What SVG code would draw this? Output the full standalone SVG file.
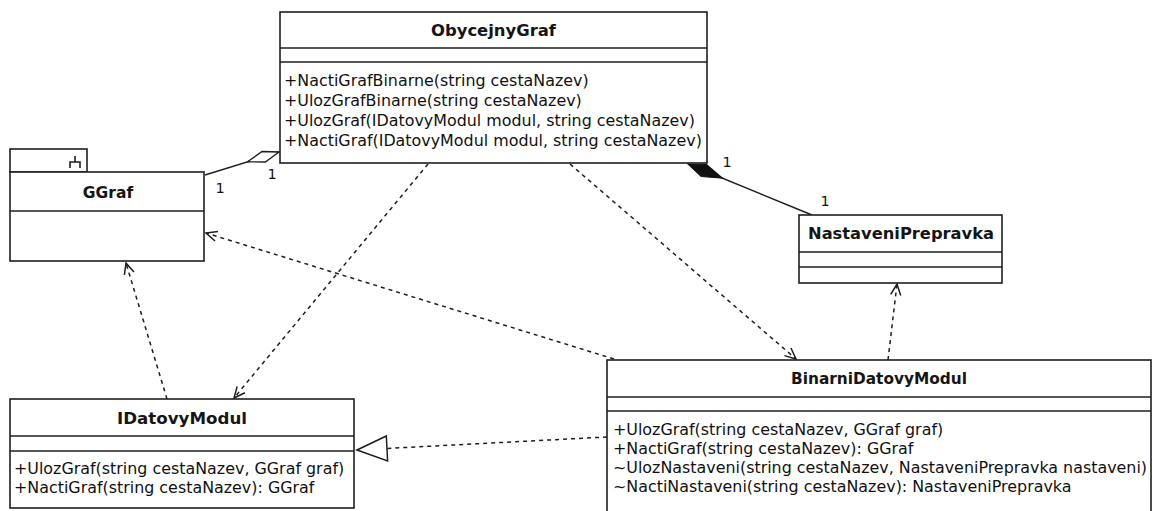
<svg xmlns="http://www.w3.org/2000/svg" width="1156" height="511" viewBox="0 0 1156 511">
  <style>
    .box { fill: #ffffff; stroke: #1e1e1e; stroke-width: 1.6; }
    .sep { stroke: #1e1e1e; stroke-width: 1.6; fill: none; }
    .title { font-family: "DejaVu Sans", Verdana, sans-serif; font-size: 15.5px; font-weight: bold; fill: #151515; text-anchor: middle; }
    .op { font-family: "DejaVu Sans", Verdana, sans-serif; font-size: 15.9px; fill: #111111; }
    .mult { font-family: "DejaVu Sans", Verdana, sans-serif; font-size: 14.5px; fill: #111111; text-anchor: middle; }
    .assoc { stroke: #1e1e1e; stroke-width: 1.4; fill: none; }
    .dep { stroke: #1e1e1e; stroke-width: 1.5; fill: none; stroke-dasharray: 4 4; }
  </style>
  <defs>
    <!-- open arrowhead for dependencies -->
    <marker id="open-arrow" markerUnits="userSpaceOnUse" markerWidth="16" markerHeight="14" viewBox="-13 -7 16 14" refX="0" refY="0" orient="auto">
      <path d="M-11,-5 L0,0 L-11,5" fill="none" stroke="#1e1e1e" stroke-width="1.5"/>
    </marker>
    <!-- hollow triangle for realization -->
    <marker id="realize" markerUnits="userSpaceOnUse" markerWidth="36" markerHeight="30" viewBox="-33 -15 36 30" refX="0" refY="0" orient="auto">
      <path d="M0,0 L-30,-12.5 L-30,12.5 Z" fill="#ffffff" stroke="#1e1e1e" stroke-width="1.5"/>
    </marker>
    <!-- hollow diamond for aggregation -->
    <marker id="aggregate" markerUnits="userSpaceOnUse" markerWidth="40" markerHeight="16" viewBox="-2 -8 40 16" refX="0" refY="0" orient="auto">
      <path d="M0,0 L16,-5.5 L33,0 L16,5.5 Z" fill="#ffffff" stroke="#1e1e1e" stroke-width="1.4"/>
    </marker>
    <!-- filled diamond for composition -->
    <marker id="compose" markerUnits="userSpaceOnUse" markerWidth="42" markerHeight="18" viewBox="-2 -9 42 18" refX="0" refY="0" orient="auto">
      <path d="M0,0 L17,-6.5 L37,0 L17,6.5 Z" fill="#111111" stroke="#111111" stroke-width="1.2"/>
    </marker>
  </defs>

  <rect x="0" y="0" width="1156" height="511" fill="#ffffff"/>

  <!-- connectors -->
  <g id="connectors">
    <path class="assoc" d="M279,152 L205,175" marker-start="url(#aggregate)"/>
    <path class="assoc" d="M688,164 L812,215" marker-start="url(#compose)"/>
    <path class="dep" d="M167,399 L126,263" marker-end="url(#open-arrow)"/>
    <path class="dep" d="M428,164 L234,398" marker-end="url(#open-arrow)"/>
    <path class="dep" d="M570,164 L796,359" marker-end="url(#open-arrow)"/>
    <path class="dep" d="M614,359 L206,233" marker-end="url(#open-arrow)"/>
    <path class="dep" d="M888,360 L897,284" marker-end="url(#open-arrow)"/>
    <path class="dep" d="M607,437 L357,450" marker-end="url(#realize)"/>
    <text class="mult" x="220" y="193">1</text>
    <text class="mult" x="272" y="179">1</text>
    <text class="mult" x="727" y="167">1</text>
    <text class="mult" x="825" y="206">1</text>
  </g>

  <!-- ObycejnyGraf -->
  <g id="ObycejnyGraf">
    <rect class="box" x="280" y="12" width="427" height="151"/>
    <line class="sep" x1="280" y1="48" x2="707" y2="48"/>
    <line class="sep" x1="280" y1="62" x2="707" y2="62"/>
    <text class="title" x="493.5" y="36" textLength="125" lengthAdjust="spacingAndGlyphs">ObycejnyGraf</text>
    <text class="op" x="284" y="86">+NactiGrafBinarne(string cestaNazev)</text>
    <text class="op" x="284" y="106">+UlozGrafBinarne(string cestaNazev)</text>
    <text class="op" x="284" y="126">+UlozGraf(IDatovyModul modul, string cestaNazev)</text>
    <text class="op" x="284" y="146">+NactiGraf(IDatovyModul modul, string cestaNazev)</text>
  </g>

  <!-- GGraf (package-style tab) -->
  <g id="GGraf">
    <rect class="box" x="10" y="149" width="77" height="23"/>
    <path class="sep" d="M75,156 V162 M70,168 V162 H80 V168" stroke-width="1.3"/>
    <rect class="box" x="10" y="172" width="194" height="89"/>
    <line class="sep" x1="10" y1="211" x2="204" y2="211"/>
    <text class="title" x="108" y="198">GGraf</text>
  </g>

  <!-- NastaveniPrepravka -->
  <g id="NastaveniPrepravka">
    <rect class="box" x="799" y="215" width="203" height="68"/>
    <line class="sep" x1="799" y1="252" x2="1002" y2="252"/>
    <line class="sep" x1="799" y1="267" x2="1002" y2="267"/>
    <text class="title" x="901" y="239" textLength="186" lengthAdjust="spacingAndGlyphs">NastaveniPrepravka</text>
  </g>

  <!-- IDatovyModul -->
  <g id="IDatovyModul">
    <rect class="box" x="10" y="399" width="344" height="109"/>
    <line class="sep" x1="10" y1="436" x2="354" y2="436"/>
    <line class="sep" x1="10" y1="451" x2="354" y2="451"/>
    <text class="title" x="182" y="424" textLength="130" lengthAdjust="spacingAndGlyphs">IDatovyModul</text>
    <text class="op" x="14" y="474">+UlozGraf(string cestaNazev, GGraf graf)</text>
    <text class="op" x="14" y="493">+NactiGraf(string cestaNazev): GGraf</text>
  </g>

  <!-- BinarniDatovyModul -->
  <g id="BinarniDatovyModul">
    <rect class="box" x="607" y="360" width="544" height="170"/>
    <line class="sep" x1="607" y1="397" x2="1151" y2="397"/>
    <line class="sep" x1="607" y1="411" x2="1151" y2="411"/>
    <text class="title" x="879" y="384" textLength="176" lengthAdjust="spacingAndGlyphs">BinarniDatovyModul</text>
    <text class="op" x="613" y="435">+UlozGraf(string cestaNazev, GGraf graf)</text>
    <text class="op" x="613" y="454">+NactiGraf(string cestaNazev): GGraf</text>
    <text class="op" x="613" y="473">~UlozNastaveni(string cestaNazev, NastaveniPrepravka nastaveni)</text>
    <text class="op" x="613" y="492">~NactiNastaveni(string cestaNazev): NastaveniPrepravka</text>
  </g>
</svg>
